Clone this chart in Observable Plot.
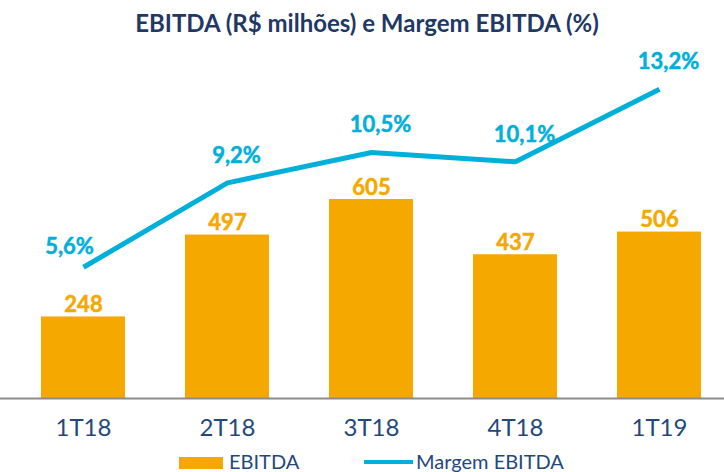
<!DOCTYPE html>
<html>
<head>
<meta charset="utf-8">
<script src="https://cdn.jsdelivr.net/npm/d3@7"></script>
<script src="https://cdn.jsdelivr.net/npm/@observablehq/plot@0.6"></script>
<style>
  html, body { margin: 0; padding: 0; background: #fff; }
  #wrap { position: relative; width: 724px; height: 472px; overflow: hidden; font-family: Lato, "Open Sans", sans-serif; }
  #title { position: absolute; left: 0; top: 8px; width: 734px; text-align: center; font-size: 24px; line-height: 29px; font-weight: 700; color: #1F3864; z-index: 2; }
  .layer { position: absolute; left: 0; top: 20px; }
  .leg { position: absolute; }
  .legtxt { position: absolute; font-size: 20px; line-height: 22px; color: #1F497D; white-space: nowrap; }
</style>
</head>
<body>
<div id="wrap">
  <div id="bars" class="layer"></div>
  <div id="line" class="layer"></div>
  <div id="title">EBITDA (R$ milhões) e Margem EBITDA (%)</div>
  <div class="leg" style="left:179px;top:457px;width:44px;height:12px;background:#F5A800"></div>
  <div class="legtxt" style="left:229px;top:450px">EBITDA</div>
  <div class="leg" style="left:364px;top:460px;width:49px;height:4px;background:#00B0DA"></div>
  <div class="legtxt" style="left:416px;top:450px">Margem EBITDA</div>
</div>
<script>
const quarters = ["1T18", "2T18", "3T18", "4T18", "1T19"];
const ebitda = [248, 497, 605, 437, 506];
const margem = [5.6, 9.2, 10.5, 10.1, 13.2];
const margemLabels = ["5,6%", "9,2%", "10,5%", "10,1%", "13,2%"];

const rows = quarters.map((q, i) => ({q, ebitda: ebitda[i], margem: margem[i], lab: margemLabels[i], i}));

const ORANGE = "#F5A800";
const CYAN = "#00B0DA";
const W = 724, MT = 30, H = 392 + MT, MB = 44;
const xOpts = {type: "band", domain: quarters, range: [11, 731], paddingInner: 0.42, paddingOuter: 0.2};
const boldLabel = {fontSize: 22, fontWeight: 700, strokeWidth: 0.5, paintOrder: "normal"};

const barPlot = Plot.plot({
  width: W, height: H,
  marginTop: MT, marginBottom: MB, marginLeft: 0, marginRight: 0,
  style: {fontFamily: "Lato, 'Open Sans', sans-serif", background: "white"},
  x: {...xOpts, label: null},
  y: {domain: [0, 1058], range: [H - MB, MT + 0], axis: null},
  marks: [
    Plot.barY(rows, {x: "q", y: "ebitda", fill: ORANGE}),
    Plot.ruleY([0], {stroke: "#8C8C8C", strokeWidth: 2}),
    Plot.text(rows, {x: "q", y: "ebitda", text: d => String(d.ebitda), dy: -12, fill: ORANGE, stroke: ORANGE, ...boldLabel}),
    Plot.axisX({tickSize: 0, tickPadding: 20, fontSize: 24, color: "#1F497D", label: null})
  ]
});
document.getElementById("bars").appendChild(barPlot);

const linePlot = Plot.plot({
  width: W, height: H,
  marginTop: MT, marginBottom: MB, marginLeft: 0, marginRight: 0,
  style: {fontFamily: "Lato, 'Open Sans', sans-serif", background: "transparent"},
  x: {...xOpts, axis: null},
  y: {domain: [0, 14.85], axis: null},
  marks: [
    Plot.line(rows, {x: "q", y: "margem", stroke: CYAN, strokeWidth: 5, strokeLinejoin: "miter", strokeLinecap: "butt"}),
    Plot.text(rows.filter(d => d.i === 0), {x: "q", y: "margem", text: "lab", dx: -14, dy: -20, fill: CYAN, stroke: CYAN, ...boldLabel}),
    Plot.text(rows.filter(d => d.i > 0), {x: "q", y: "margem", text: "lab", dx: 9, dy: -27, fill: CYAN, stroke: CYAN, ...boldLabel})
  ]
});
document.getElementById("line").appendChild(linePlot);
</script>
</body>
</html>
